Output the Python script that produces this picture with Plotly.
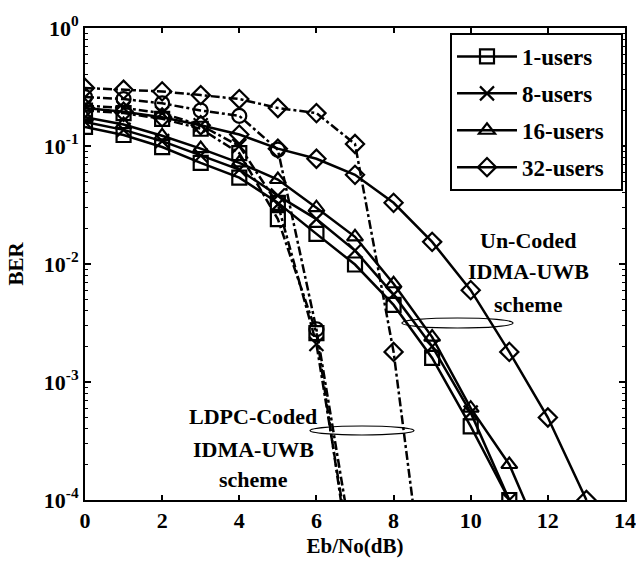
import plotly.graph_objects as go

# ---- data ----
x_unc = list(range(0, 12))
x_unc16 = list(range(0, 13))
x_unc32 = list(range(0, 14))
ber_unc_1 = [0.145, 0.124, 0.098, 0.072, 0.054, 0.033, 0.018, 0.0099, 0.0045, 0.0016, 4.2e-4, 1e-4]
ber_unc_8 = [0.16, 0.137, 0.11, 0.083, 0.063, 0.038, 0.024, 0.013, 0.0055, 0.0020, 5.5e-4, 1e-4]
ber_unc_16 = [0.175, 0.152, 0.122, 0.095, 0.072, 0.052, 0.030, 0.017, 0.0068, 0.0024, 6e-4, 2e-4, 3.5e-5]
ber_unc_32 = [0.21, 0.195, 0.175, 0.15, 0.125, 0.095, 0.078, 0.057, 0.033, 0.0154, 0.006, 0.0018, 5e-4, 1e-4]

x_ldpc = list(range(0, 8))
x_ldpc32 = list(range(0, 10))
ber_ldpc_1 = [0.20, 0.19, 0.17, 0.14, 0.087, 0.024, 0.0026, 1.5e-5]
ber_ldpc_8 = [0.22, 0.21, 0.19, 0.15, 0.10, 0.032, 0.0021, 2e-5]
ber_ldpc_16 = [0.26, 0.25, 0.23, 0.20, 0.18, 0.093, 0.0028, 3e-5]
ber_ldpc_32 = [0.31, 0.30, 0.29, 0.27, 0.25, 0.21, 0.19, 0.104, 0.0018, 5e-6]

legend_names = ["1-users", "8-users", "16-users", "32-users"]
x_ticks = [0, 2, 4, 6, 8, 10, 12, 14]
y_ticks = [1e-4, 1e-3, 1e-2, 1e-1, 1]
y_ticktext = ["10<sup>-4</sup>", "10<sup>-3</sup>", "10<sup>-2</sup>", "10<sup>-1</sup>", "10<sup>0</sup>"]
uncoded_label = ["Un-Coded", "IDMA-UWB", "scheme"]
ldpc_label = ["LDPC-Coded", "IDMA-UWB", "scheme"]

FONT = "Liberation Serif"
LW = 2.5
MS = 14

fig = go.Figure()

def add(x, y, symbol, dash, name=None, show=False, group=None):
    fig.add_trace(go.Scatter(
        x=x, y=y, mode="lines+markers",
        name=(f"<b>{name}</b>&nbsp;&nbsp;" if name else None), showlegend=show,
        legendgroup=group,
        line=dict(color="black", width=LW, dash=dash),
        marker=dict(symbol=symbol, size=MS, color="black",
                    line=dict(color="black", width=2.2)),
        cliponaxis=True,
    ))

# LDPC coded (dash-dot)
add(x_ldpc, ber_ldpc_1, "square-open", "dashdot")
add(x_ldpc, ber_ldpc_8, "x-thin-open", "dashdot")
add(x_ldpc, ber_ldpc_16, "circle-open", "dashdot")
add(x_ldpc32, ber_ldpc_32, "diamond-open", "dashdot")

# Un-coded (solid)
add(x_unc, ber_unc_1, "square-open", "solid", legend_names[0], True, "g1")
add(x_unc, ber_unc_8, "x-thin-open", "solid", legend_names[1], True, "g2")
add(x_unc16, ber_unc_16, "triangle-up-open", "solid", legend_names[2], True, "g3")
add(x_unc32, ber_unc_32, "diamond-open", "solid", legend_names[3], True, "g4")

# plot area pixel geometry: x 85..625, y 28..500
def py(p):
    return (500 - p) / 472.0

def pxx(p):
    return (p - 85) / 540.0

fig.add_shape(type="circle", xref="paper", yref="paper",
              x0=pxx(402), x1=pxx(513), y0=py(328), y1=py(318),
              line=dict(color="black", width=1.2))
fig.add_shape(type="circle", xref="paper", yref="paper",
              x0=pxx(310), x1=pxx(414), y0=py(435), y1=py(426),
              line=dict(color="black", width=1.2))

for txt, yy in zip(uncoded_label, [240, 271, 304]):
    fig.add_annotation(xref="paper", yref="paper", x=pxx(528), y=py(yy),
                       xanchor="center", yanchor="middle",
                       text=f"<b>{txt}</b>", showarrow=False,
                       font=dict(family=FONT, size=22, color="black"))
for txt, yy in zip(ldpc_label, [416, 449, 479]):
    fig.add_annotation(xref="paper", yref="paper", x=pxx(253), y=py(yy),
                       xanchor="center", yanchor="middle",
                       text=f"<b>{txt}</b>", showarrow=False,
                       font=dict(family=FONT, size=22, color="black"))

minor_vals = [m * 10 ** e for e in range(-4, 0) for m in range(2, 10)]

fig.update_layout(
    width=636, height=571,
    margin=dict(l=85, r=11, t=28, b=71),
    paper_bgcolor="white", plot_bgcolor="white",
    font=dict(family=FONT, color="black", size=20),
    legend=dict(x=pxx(623), y=py(33), xanchor="right", yanchor="top",
                xref="paper", yref="paper",
                bgcolor="white", bordercolor="black", borderwidth=2,
                font=dict(family=FONT, size=23, color="black"),
                tracegroupgap=4, itemwidth=60),
    xaxis=dict(range=[0, 14], tickvals=x_ticks, automargin=False,
               ticktext=[f"<b>{v}</b>" for v in x_ticks],
               showline=True, linecolor="black", linewidth=2, mirror="ticks",
               ticks="inside", ticklen=5, tickwidth=1.5, tickcolor="black",
               showgrid=False, zeroline=False,
               title=dict(text="<b>Eb/No(dB)</b>", font=dict(size=21), standoff=6),
               tickfont=dict(size=22)),
    yaxis=dict(type="log", range=[-4, 0], tickvals=y_ticks, automargin=False,
               ticktext=[f"<b>{t}</b>" for t in y_ticktext],
               showline=True, linecolor="black", linewidth=2, mirror="ticks",
               ticks="inside", ticklen=6, tickwidth=1.5, tickcolor="black",
               showgrid=False, zeroline=False,
               minor=dict(tickvals=minor_vals, ticks="inside", ticklen=3,
                          tickwidth=1, tickcolor="black"),
               title=dict(text="<b>BER</b>", font=dict(size=21), standoff=14),
               tickfont=dict(size=22)),
)

fig.write_html("out.html")
